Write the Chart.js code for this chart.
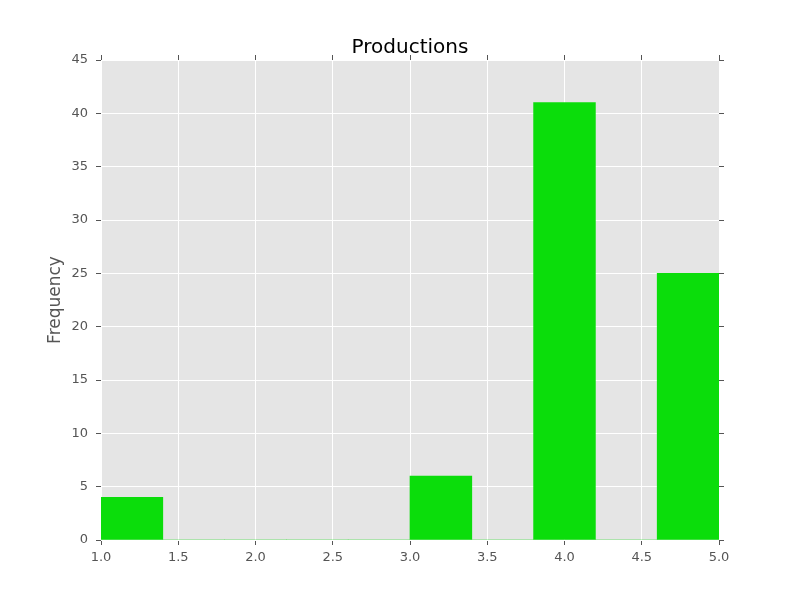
<!DOCTYPE html>
<html>
<head>
<meta charset="utf-8">
<script src="https://cdn.jsdelivr.net/npm/chart.js@4/dist/chart.umd.min.js"></script>
<style>
html,body{margin:0;padding:0;background:#fff;}
#wrap{width:800px;height:600px;}
</style>
</head>
<body>
<div id="wrap"><canvas id="c" width="800" height="600"></canvas></div>
<script>
const binEdges = [1.0, 1.4, 1.8, 2.2, 2.6, 3.0, 3.4, 3.8, 4.2, 4.6, 5.0];
const counts = [4, 0, 0, 0, 0, 6, 0, 41, 0, 25];
const xTicks = [1.0, 1.5, 2.0, 2.5, 3.0, 3.5, 4.0, 4.5, 5.0];
const yTicks = [0, 5, 10, 15, 20, 25, 30, 35, 40, 45];
const chartTitle = 'Productions';
const yLabel = 'Frequency';

const points = counts.map((c, i) => ({ x: (binEdges[i] + binEdges[i + 1]) / 2, y: c }));
const FONT = 'DejaVu Sans';

const titlePlugin = {
  id: 'mplTitle',
  afterDraw(chart) {
    const ctx = chart.ctx;
    const a = chart.chartArea;
    ctx.save();
    ctx.font = '20px "' + FONT + '"';
    ctx.fillStyle = '#000';
    ctx.textAlign = 'center';
    ctx.textBaseline = 'alphabetic';
    ctx.fillText(chartTitle, (a.left + a.right) / 2, 53);
    ctx.restore();
  }
};

new Chart(document.getElementById('c'), {
  type: 'bar',
  data: {
    datasets: [{
      data: points,
      backgroundColor: '#0bdd0b',
      borderWidth: 0,
      barPercentage: 1.0,
      categoryPercentage: 1.0,
      grouped: false
    }]
  },
  options: {
    responsive: false,
    animation: false,
    events: [],
    layout: { padding: 0 },
    plugins: { legend: { display: false }, tooltip: { enabled: false }, title: { display: false } },
    scales: {
      x: {
        type: 'linear', position: 'bottom', min: 1.0, max: 5.0, offset: false,
        afterBuildTicks(s) { s.ticks = xTicks.map(v => ({ value: v })); },
        afterFit(s) { s.height = 60; },
        ticks: { color: '#555', font: { family: FONT, size: 13 }, padding: 5,
                 callback: v => Number(v).toFixed(1), maxRotation: 0, autoSkip: false },
        grid: { offset: false, color: '#ffffff', lineWidth: 1, tickColor: '#555', tickLength: 5, drawTicks: true },
        border: { display: false }
      },
      x2: {
        type: 'linear', position: 'top', min: 1.0, max: 5.0, offset: false,
        afterBuildTicks(s) { s.ticks = xTicks.map(v => ({ value: v })); },
        afterFit(s) { s.height = 60; },
        ticks: { display: false },
        grid: { offset: false, drawOnChartArea: false, tickColor: '#555', tickLength: 5 },
        border: { display: false }
      },
      y: {
        type: 'linear', position: 'left', min: 0, max: 45,
        afterBuildTicks(s) { s.ticks = yTicks.map(v => ({ value: v })); },
        afterFit(s) { s.width = 101; },
        ticks: { color: '#555', font: { family: FONT, size: 13 }, padding: 8 },
        grid: { offset: false, color: '#ffffff', lineWidth: 1, tickColor: '#555', tickLength: 5 },
        border: { display: false },
        title: { display: true, text: yLabel, color: '#555', font: { family: FONT, size: 17 }, padding: { top: 45, bottom: 0 } }
      },
      y2: {
        type: 'linear', position: 'right', min: 0, max: 45,
        afterBuildTicks(s) { s.ticks = yTicks.map(v => ({ value: v })); },
        afterFit(s) { s.width = 81; },
        ticks: { display: false },
        grid: { offset: false, drawOnChartArea: false, tickColor: '#555', tickLength: 5 },
        border: { display: false }
      }
    }
  },
  plugins: [{
    id: 'bg',
    beforeDraw(chart) {
      const a = chart.chartArea, ctx = chart.ctx;
      ctx.save();
      ctx.fillStyle = '#fff';
      ctx.fillRect(0, 0, chart.width, chart.height);
      ctx.fillStyle = '#e5e5e5';
      ctx.fillRect(a.left, a.top, a.right - a.left, a.bottom - a.top);
      ctx.restore();
    }
  }, titlePlugin]
});
</script>
</body>
</html>
